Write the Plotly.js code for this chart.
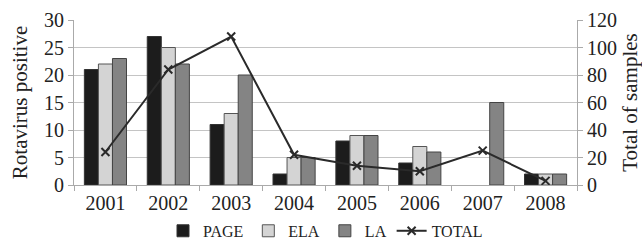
<!DOCTYPE html>
<html>
<head>
<meta charset="utf-8">
<script src="https://cdn.plot.ly/plotly-3.0.1.min.js"></script>
<style>html,body{margin:0;padding:0;background:#fff;}#chart{width:642px;height:240px;}</style>
</head>
<body>
<div id="chart"></div>
<script>
const years = ["2001","2002","2003","2004","2005","2006","2007","2008"];
const page  = [21, 27, 11, 2, 8, 4, null, 2];
const ela   = [22, 25, 13, 5, 9, 7, null, 2];
const la    = [23, 22, 20, 5, 9, 6, 15, 2];
const total = [24, 84, 108, 22, 14, 10, 25, 3];

const FONT = "Liberation Serif";
const TXT = "#222";
const traces = [
  {type:"bar", name:"PAGE", x:years, y:page, marker:{color:"#1c1c1c", line:{color:"#333", width:1}}},
  {type:"bar", name:"ELA", x:years, y:ela, marker:{color:"#d4d4d4", line:{color:"#555", width:1}}},
  {type:"bar", name:"LA", x:years, y:la, marker:{color:"#848484", line:{color:"#444", width:1}}},
  {type:"scatter", mode:"lines+markers", name:"TOTAL", x:years, y:total, yaxis:"y2",
   line:{color:"#2a2a2a", width:2}, marker:{symbol:"x-thin", size:8, color:"#2a2a2a", line:{color:"#2a2a2a", width:2}}}
];
const layout = {
  width:642, height:240,
  margin:{l:74, r:65, t:20, b:55, autoexpand:false},
  paper_bgcolor:"#fff", plot_bgcolor:"#fff",
  font:{family:FONT, color:TXT, size:19},
  barmode:"group", bargap:0.33, bargroupgap:0,
  showlegend:true,
  legend:{orientation:"h", x:0.5, xanchor:"center", y:-0.175, yanchor:"top",
          font:{family:FONT, size:16, color:TXT}, itemwidth:30, tracegroupgap:0},
  xaxis:{type:"category", showgrid:false, ticks:"outside", tickson:"boundaries", ticklen:5,
         tickcolor:"#aaa", showline:true, linecolor:"#aaa", linewidth:1,
         tickfont:{family:FONT, size:20, color:TXT}},
  yaxis:{range:[0,30], dtick:5, showgrid:true, gridcolor:"#c4c4c4", gridwidth:1,
         showline:true, linecolor:"#aaa", ticks:"outside", ticklen:5, tickcolor:"#aaa",
         zeroline:false, tickfont:{family:FONT, size:20, color:TXT},
         title:{text:"Rotavirus positive", font:{family:FONT, size:21, color:TXT}, standoff:10}},
  yaxis2:{range:[0,120], dtick:20, overlaying:"y", side:"right", showgrid:false,
          showline:true, linecolor:"#aaa", ticks:"outside", ticklen:5, tickcolor:"#aaa",
          zeroline:false, tickfont:{family:FONT, size:20, color:TXT},
          title:{text:"Total of samples", font:{family:FONT, size:21, color:TXT}, standoff:8}}
};
Plotly.newPlot("chart", traces, layout, {displayModeBar:false, staticPlot:true});
</script>
</body>
</html>
